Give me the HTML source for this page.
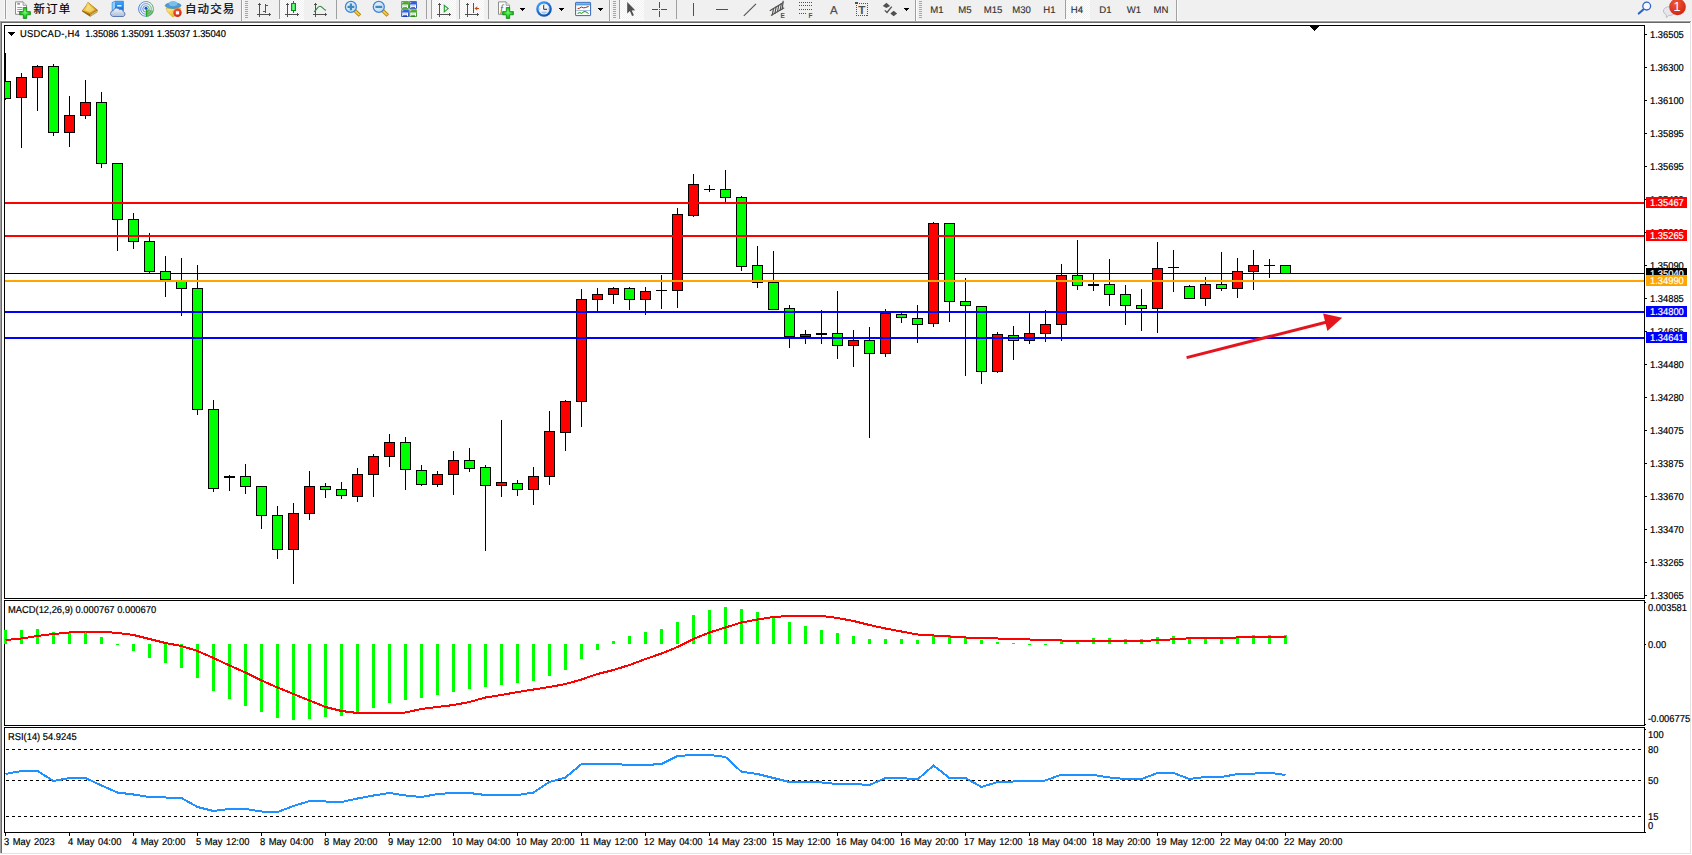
<!DOCTYPE html>
<html lang="zh-CN"><head><meta charset="utf-8"><title>USDCAD-,H4</title>
<style>
html,body{margin:0;padding:0;background:#fff;}
body{width:1692px;height:855px;position:relative;overflow:hidden;font-family:"Liberation Sans","Noto Sans CJK SC",sans-serif;color:#000;}
.abs{position:absolute;}
#tb{left:0;top:0;width:1692px;height:20px;background:#f0f0f0;}
.t{position:absolute;margin-top:1px;white-space:nowrap;font-size:10px;line-height:11px;height:11px;color:#000;transform:scaleX(0.935);transform-origin:0 0;-webkit-text-stroke:0.2px #000;text-rendering:geometricPrecision;}
.pl{position:absolute;left:1646px;width:41px;height:11px;}
.pl span{position:absolute;left:3.5px;top:1px;font-size:10px;line-height:11px;color:#fff;white-space:nowrap;transform:scaleX(0.935);transform-origin:0 0;-webkit-text-stroke:0.2px #fff;text-rendering:geometricPrecision;}
.cj{position:absolute;white-space:nowrap;font-size:11.5px;line-height:16px;color:#000;top:1px;letter-spacing:1.1px;-webkit-text-stroke:0.2px #000;}
.pd{position:absolute;white-space:nowrap;font-size:9.6px;line-height:12px;color:#333;top:5px;width:40px;text-align:center;text-rendering:geometricPrecision;-webkit-text-stroke:0.15px #333;}
</style></head><body>
<div id="tb" class="abs"></div>
<div class="abs" style="left:0;top:20px;width:1692px;height:1px;background:#fafafa"></div>
<div class="abs" style="left:0;top:21px;width:1691px;height:1px;background:#a0a0a0"></div>
<div class="abs" style="left:1px;top:22px;width:1689px;height:1px;background:#696969"></div>
<div class="abs" style="left:0;top:22px;width:1px;height:831px;background:#a0a0a0"></div>
<div class="abs" style="left:1px;top:23px;width:1px;height:830px;background:#696969"></div>
<div class="abs" style="left:1690px;top:22px;width:1px;height:832px;background:#e3e3e3"></div>
<div class="abs" style="left:0px;top:853px;width:1691px;height:1px;background:#e3e3e3"></div>
<svg class="abs" style="left:0;top:0" width="1692" height="855" viewBox="0 0 1692 855" shape-rendering="crispEdges">
<rect x="4" y="25" width="1641" height="1" fill="#000"/>
<rect x="4" y="598" width="1641" height="1" fill="#000"/>
<rect x="4" y="25" width="1" height="574" fill="#000"/>
<rect x="1644" y="25" width="1" height="574" fill="#000"/>
<rect x="4" y="600" width="1641" height="1" fill="#000"/>
<rect x="4" y="725" width="1641" height="1" fill="#000"/>
<rect x="4" y="600" width="1" height="126" fill="#000"/>
<rect x="1644" y="600" width="1" height="126" fill="#000"/>
<rect x="4" y="727" width="1641" height="1" fill="#000"/>
<rect x="4" y="832" width="1641" height="1" fill="#000"/>
<rect x="4" y="727" width="1" height="106" fill="#000"/>
<rect x="1644" y="727" width="1" height="106" fill="#000"/>
<rect x="1645" y="34" width="2" height="1" fill="#000"/>
<rect x="1645" y="67" width="2" height="1" fill="#000"/>
<rect x="1645" y="100" width="2" height="1" fill="#000"/>
<rect x="1645" y="133" width="2" height="1" fill="#000"/>
<rect x="1645" y="166" width="2" height="1" fill="#000"/>
<rect x="1645" y="199" width="2" height="1" fill="#000"/>
<rect x="1645" y="232" width="2" height="1" fill="#000"/>
<rect x="1645" y="265" width="2" height="1" fill="#000"/>
<rect x="1645" y="298" width="2" height="1" fill="#000"/>
<rect x="1645" y="331" width="2" height="1" fill="#000"/>
<rect x="1645" y="364" width="2" height="1" fill="#000"/>
<rect x="1645" y="397" width="2" height="1" fill="#000"/>
<rect x="1645" y="430" width="2" height="1" fill="#000"/>
<rect x="1645" y="463" width="2" height="1" fill="#000"/>
<rect x="1645" y="496" width="2" height="1" fill="#000"/>
<rect x="1645" y="529" width="2" height="1" fill="#000"/>
<rect x="1645" y="562" width="2" height="1" fill="#000"/>
<rect x="1645" y="595" width="2" height="1" fill="#000"/>
<rect x="5" y="833" width="1" height="3" fill="#000"/>
<rect x="69" y="833" width="1" height="3" fill="#000"/>
<rect x="133" y="833" width="1" height="3" fill="#000"/>
<rect x="197" y="833" width="1" height="3" fill="#000"/>
<rect x="261" y="833" width="1" height="3" fill="#000"/>
<rect x="325" y="833" width="1" height="3" fill="#000"/>
<rect x="389" y="833" width="1" height="3" fill="#000"/>
<rect x="453" y="833" width="1" height="3" fill="#000"/>
<rect x="517" y="833" width="1" height="3" fill="#000"/>
<rect x="581" y="833" width="1" height="3" fill="#000"/>
<rect x="645" y="833" width="1" height="3" fill="#000"/>
<rect x="709" y="833" width="1" height="3" fill="#000"/>
<rect x="773" y="833" width="1" height="3" fill="#000"/>
<rect x="837" y="833" width="1" height="3" fill="#000"/>
<rect x="901" y="833" width="1" height="3" fill="#000"/>
<rect x="965" y="833" width="1" height="3" fill="#000"/>
<rect x="1029" y="833" width="1" height="3" fill="#000"/>
<rect x="1093" y="833" width="1" height="3" fill="#000"/>
<rect x="1157" y="833" width="1" height="3" fill="#000"/>
<rect x="1221" y="833" width="1" height="3" fill="#000"/>
<rect x="1285" y="833" width="1" height="3" fill="#000"/>
<rect x="1645" y="832" width="1" height="1" fill="#000"/>
<rect x="1645" y="602" width="1" height="1" fill="#000"/>
<rect x="1645" y="644" width="1" height="1" fill="#000"/>
<rect x="1645" y="724" width="1" height="1" fill="#000"/>
<rect x="1645" y="729" width="1" height="1" fill="#000"/>
<rect x="1310" y="26" width="9" height="1" fill="#000"/>
<rect x="1311" y="27" width="7" height="1" fill="#000"/>
<rect x="1312" y="28" width="5" height="1" fill="#000"/>
<rect x="1313" y="29" width="3" height="1" fill="#000"/>
<rect x="1314" y="30" width="1" height="1" fill="#000"/>
<rect x="8" y="32" width="7" height="1" fill="#000"/>
<rect x="9" y="33" width="5" height="1" fill="#000"/>
<rect x="10" y="34" width="3" height="1" fill="#000"/>
<rect x="11" y="35" width="1" height="1" fill="#000"/>
<rect x="5" y="273" width="1639" height="1" fill="#000"/>
<clipPath id="cc"><rect x="5" y="26" width="1639" height="572"/></clipPath><g clip-path="url(#cc)">
<rect x="5" y="53" width="1" height="47" fill="#000"/>
<rect x="0" y="81" width="11" height="18" fill="#000"/>
<rect x="1" y="82" width="9" height="16" fill="#00ff00"/>
<rect x="21" y="73" width="1" height="75" fill="#000"/>
<rect x="16" y="77" width="11" height="21" fill="#000"/>
<rect x="17" y="78" width="9" height="19" fill="#ff0000"/>
<rect x="37" y="65" width="1" height="46" fill="#000"/>
<rect x="32" y="66" width="11" height="12" fill="#000"/>
<rect x="33" y="67" width="9" height="10" fill="#ff0000"/>
<rect x="53" y="64" width="1" height="72" fill="#000"/>
<rect x="48" y="66" width="11" height="67" fill="#000"/>
<rect x="49" y="67" width="9" height="65" fill="#00ff00"/>
<rect x="69" y="96" width="1" height="51" fill="#000"/>
<rect x="64" y="115" width="11" height="18" fill="#000"/>
<rect x="65" y="116" width="9" height="16" fill="#ff0000"/>
<rect x="85" y="80" width="1" height="39" fill="#000"/>
<rect x="80" y="102" width="11" height="14" fill="#000"/>
<rect x="81" y="103" width="9" height="12" fill="#ff0000"/>
<rect x="101" y="92" width="1" height="76" fill="#000"/>
<rect x="96" y="102" width="11" height="62" fill="#000"/>
<rect x="97" y="103" width="9" height="60" fill="#00ff00"/>
<rect x="117" y="163" width="1" height="88" fill="#000"/>
<rect x="112" y="163" width="11" height="57" fill="#000"/>
<rect x="113" y="164" width="9" height="55" fill="#00ff00"/>
<rect x="133" y="213" width="1" height="36" fill="#000"/>
<rect x="128" y="219" width="11" height="23" fill="#000"/>
<rect x="129" y="220" width="9" height="21" fill="#00ff00"/>
<rect x="149" y="233" width="1" height="40" fill="#000"/>
<rect x="144" y="241" width="11" height="31" fill="#000"/>
<rect x="145" y="242" width="9" height="29" fill="#00ff00"/>
<rect x="165" y="256" width="1" height="41" fill="#000"/>
<rect x="160" y="271" width="11" height="9" fill="#000"/>
<rect x="161" y="272" width="9" height="7" fill="#00ff00"/>
<rect x="181" y="258" width="1" height="58" fill="#000"/>
<rect x="176" y="280" width="11" height="9" fill="#000"/>
<rect x="177" y="281" width="9" height="7" fill="#00ff00"/>
<rect x="197" y="265" width="1" height="150" fill="#000"/>
<rect x="192" y="288" width="11" height="122" fill="#000"/>
<rect x="193" y="289" width="9" height="120" fill="#00ff00"/>
<rect x="213" y="400" width="1" height="92" fill="#000"/>
<rect x="208" y="409" width="11" height="80" fill="#000"/>
<rect x="209" y="410" width="9" height="78" fill="#00ff00"/>
<rect x="229" y="475" width="1" height="16" fill="#000"/>
<rect x="224" y="476" width="11" height="2" fill="#000"/>
<rect x="245" y="464" width="1" height="30" fill="#000"/>
<rect x="240" y="476" width="11" height="11" fill="#000"/>
<rect x="241" y="477" width="9" height="9" fill="#00ff00"/>
<rect x="261" y="486" width="1" height="43" fill="#000"/>
<rect x="256" y="486" width="11" height="30" fill="#000"/>
<rect x="257" y="487" width="9" height="28" fill="#00ff00"/>
<rect x="277" y="506" width="1" height="53" fill="#000"/>
<rect x="272" y="515" width="11" height="35" fill="#000"/>
<rect x="273" y="516" width="9" height="33" fill="#00ff00"/>
<rect x="293" y="503" width="1" height="81" fill="#000"/>
<rect x="288" y="513" width="11" height="37" fill="#000"/>
<rect x="289" y="514" width="9" height="35" fill="#ff0000"/>
<rect x="309" y="471" width="1" height="49" fill="#000"/>
<rect x="304" y="486" width="11" height="28" fill="#000"/>
<rect x="305" y="487" width="9" height="26" fill="#ff0000"/>
<rect x="325" y="483" width="1" height="15" fill="#000"/>
<rect x="320" y="486" width="11" height="4" fill="#000"/>
<rect x="321" y="487" width="9" height="2" fill="#00ff00"/>
<rect x="341" y="482" width="1" height="17" fill="#000"/>
<rect x="336" y="489" width="11" height="7" fill="#000"/>
<rect x="337" y="490" width="9" height="5" fill="#00ff00"/>
<rect x="357" y="468" width="1" height="34" fill="#000"/>
<rect x="352" y="474" width="11" height="23" fill="#000"/>
<rect x="353" y="475" width="9" height="21" fill="#ff0000"/>
<rect x="373" y="454" width="1" height="43" fill="#000"/>
<rect x="368" y="456" width="11" height="19" fill="#000"/>
<rect x="369" y="457" width="9" height="17" fill="#ff0000"/>
<rect x="389" y="434" width="1" height="33" fill="#000"/>
<rect x="384" y="442" width="11" height="15" fill="#000"/>
<rect x="385" y="443" width="9" height="13" fill="#ff0000"/>
<rect x="405" y="437" width="1" height="53" fill="#000"/>
<rect x="400" y="442" width="11" height="28" fill="#000"/>
<rect x="401" y="443" width="9" height="26" fill="#00ff00"/>
<rect x="421" y="465" width="1" height="21" fill="#000"/>
<rect x="416" y="470" width="11" height="15" fill="#000"/>
<rect x="417" y="471" width="9" height="13" fill="#00ff00"/>
<rect x="437" y="471" width="1" height="16" fill="#000"/>
<rect x="432" y="474" width="11" height="11" fill="#000"/>
<rect x="433" y="475" width="9" height="9" fill="#ff0000"/>
<rect x="453" y="451" width="1" height="44" fill="#000"/>
<rect x="448" y="460" width="11" height="15" fill="#000"/>
<rect x="449" y="461" width="9" height="13" fill="#ff0000"/>
<rect x="469" y="448" width="1" height="24" fill="#000"/>
<rect x="464" y="460" width="11" height="9" fill="#000"/>
<rect x="465" y="461" width="9" height="7" fill="#00ff00"/>
<rect x="485" y="465" width="1" height="86" fill="#000"/>
<rect x="480" y="467" width="11" height="19" fill="#000"/>
<rect x="481" y="468" width="9" height="17" fill="#00ff00"/>
<rect x="501" y="420" width="1" height="77" fill="#000"/>
<rect x="496" y="482" width="11" height="4" fill="#000"/>
<rect x="497" y="483" width="9" height="2" fill="#ff0000"/>
<rect x="517" y="480" width="1" height="16" fill="#000"/>
<rect x="512" y="483" width="11" height="7" fill="#000"/>
<rect x="513" y="484" width="9" height="5" fill="#00ff00"/>
<rect x="533" y="467" width="1" height="38" fill="#000"/>
<rect x="528" y="476" width="11" height="14" fill="#000"/>
<rect x="529" y="477" width="9" height="12" fill="#ff0000"/>
<rect x="549" y="411" width="1" height="74" fill="#000"/>
<rect x="544" y="431" width="11" height="46" fill="#000"/>
<rect x="545" y="432" width="9" height="44" fill="#ff0000"/>
<rect x="565" y="400" width="1" height="51" fill="#000"/>
<rect x="560" y="401" width="11" height="32" fill="#000"/>
<rect x="561" y="402" width="9" height="30" fill="#ff0000"/>
<rect x="581" y="289" width="1" height="138" fill="#000"/>
<rect x="576" y="299" width="11" height="103" fill="#000"/>
<rect x="577" y="300" width="9" height="101" fill="#ff0000"/>
<rect x="597" y="288" width="1" height="23" fill="#000"/>
<rect x="592" y="294" width="11" height="6" fill="#000"/>
<rect x="593" y="295" width="9" height="4" fill="#ff0000"/>
<rect x="613" y="287" width="1" height="17" fill="#000"/>
<rect x="608" y="288" width="11" height="7" fill="#000"/>
<rect x="609" y="289" width="9" height="5" fill="#ff0000"/>
<rect x="629" y="287" width="1" height="23" fill="#000"/>
<rect x="624" y="288" width="11" height="12" fill="#000"/>
<rect x="625" y="289" width="9" height="10" fill="#00ff00"/>
<rect x="645" y="287" width="1" height="28" fill="#000"/>
<rect x="640" y="291" width="11" height="9" fill="#000"/>
<rect x="641" y="292" width="9" height="7" fill="#ff0000"/>
<rect x="661" y="275" width="1" height="34" fill="#000"/>
<rect x="656" y="290" width="11" height="1" fill="#000"/>
<rect x="677" y="208" width="1" height="100" fill="#000"/>
<rect x="672" y="214" width="11" height="77" fill="#000"/>
<rect x="673" y="215" width="9" height="75" fill="#ff0000"/>
<rect x="693" y="174" width="1" height="43" fill="#000"/>
<rect x="688" y="184" width="11" height="32" fill="#000"/>
<rect x="689" y="185" width="9" height="30" fill="#ff0000"/>
<rect x="709" y="185" width="1" height="7" fill="#000"/>
<rect x="704" y="189" width="11" height="1" fill="#000"/>
<rect x="725" y="170" width="1" height="32" fill="#000"/>
<rect x="720" y="189" width="11" height="9" fill="#000"/>
<rect x="721" y="190" width="9" height="7" fill="#00ff00"/>
<rect x="741" y="196" width="1" height="75" fill="#000"/>
<rect x="736" y="197" width="11" height="70" fill="#000"/>
<rect x="737" y="198" width="9" height="68" fill="#00ff00"/>
<rect x="757" y="246" width="1" height="42" fill="#000"/>
<rect x="752" y="265" width="11" height="18" fill="#000"/>
<rect x="753" y="266" width="9" height="16" fill="#00ff00"/>
<rect x="773" y="251" width="1" height="59" fill="#000"/>
<rect x="768" y="282" width="11" height="28" fill="#000"/>
<rect x="769" y="283" width="9" height="26" fill="#00ff00"/>
<rect x="789" y="305" width="1" height="43" fill="#000"/>
<rect x="784" y="308" width="11" height="29" fill="#000"/>
<rect x="785" y="309" width="9" height="27" fill="#00ff00"/>
<rect x="805" y="330" width="1" height="14" fill="#000"/>
<rect x="800" y="334" width="11" height="3" fill="#000"/>
<rect x="801" y="335" width="9" height="1" fill="#ff0000"/>
<rect x="821" y="310" width="1" height="34" fill="#000"/>
<rect x="816" y="333" width="11" height="2" fill="#000"/>
<rect x="837" y="291" width="1" height="68" fill="#000"/>
<rect x="832" y="333" width="11" height="13" fill="#000"/>
<rect x="833" y="334" width="9" height="11" fill="#00ff00"/>
<rect x="853" y="330" width="1" height="37" fill="#000"/>
<rect x="848" y="340" width="11" height="6" fill="#000"/>
<rect x="849" y="341" width="9" height="4" fill="#ff0000"/>
<rect x="869" y="327" width="1" height="111" fill="#000"/>
<rect x="864" y="340" width="11" height="14" fill="#000"/>
<rect x="865" y="341" width="9" height="12" fill="#00ff00"/>
<rect x="885" y="309" width="1" height="48" fill="#000"/>
<rect x="880" y="313" width="11" height="41" fill="#000"/>
<rect x="881" y="314" width="9" height="39" fill="#ff0000"/>
<rect x="901" y="313" width="1" height="10" fill="#000"/>
<rect x="896" y="314" width="11" height="4" fill="#000"/>
<rect x="897" y="315" width="9" height="2" fill="#00ff00"/>
<rect x="917" y="305" width="1" height="38" fill="#000"/>
<rect x="912" y="318" width="11" height="7" fill="#000"/>
<rect x="913" y="319" width="9" height="5" fill="#00ff00"/>
<rect x="933" y="222" width="1" height="105" fill="#000"/>
<rect x="928" y="223" width="11" height="101" fill="#000"/>
<rect x="929" y="224" width="9" height="99" fill="#ff0000"/>
<rect x="949" y="223" width="1" height="99" fill="#000"/>
<rect x="944" y="223" width="11" height="79" fill="#000"/>
<rect x="945" y="224" width="9" height="77" fill="#00ff00"/>
<rect x="965" y="278" width="1" height="98" fill="#000"/>
<rect x="960" y="301" width="11" height="5" fill="#000"/>
<rect x="961" y="302" width="9" height="3" fill="#00ff00"/>
<rect x="981" y="306" width="1" height="78" fill="#000"/>
<rect x="976" y="306" width="11" height="66" fill="#000"/>
<rect x="977" y="307" width="9" height="64" fill="#00ff00"/>
<rect x="997" y="332" width="1" height="41" fill="#000"/>
<rect x="992" y="334" width="11" height="38" fill="#000"/>
<rect x="993" y="335" width="9" height="36" fill="#ff0000"/>
<rect x="1013" y="326" width="1" height="34" fill="#000"/>
<rect x="1008" y="335" width="11" height="6" fill="#000"/>
<rect x="1009" y="336" width="9" height="4" fill="#00ff00"/>
<rect x="1029" y="312" width="1" height="32" fill="#000"/>
<rect x="1024" y="333" width="11" height="8" fill="#000"/>
<rect x="1025" y="334" width="9" height="6" fill="#ff0000"/>
<rect x="1045" y="310" width="1" height="32" fill="#000"/>
<rect x="1040" y="324" width="11" height="10" fill="#000"/>
<rect x="1041" y="325" width="9" height="8" fill="#ff0000"/>
<rect x="1061" y="264" width="1" height="77" fill="#000"/>
<rect x="1056" y="275" width="11" height="50" fill="#000"/>
<rect x="1057" y="276" width="9" height="48" fill="#ff0000"/>
<rect x="1077" y="240" width="1" height="50" fill="#000"/>
<rect x="1072" y="275" width="11" height="11" fill="#000"/>
<rect x="1073" y="276" width="9" height="9" fill="#00ff00"/>
<rect x="1093" y="274" width="1" height="17" fill="#000"/>
<rect x="1088" y="284" width="11" height="2" fill="#000"/>
<rect x="1109" y="259" width="1" height="47" fill="#000"/>
<rect x="1104" y="284" width="11" height="11" fill="#000"/>
<rect x="1105" y="285" width="9" height="9" fill="#00ff00"/>
<rect x="1125" y="285" width="1" height="40" fill="#000"/>
<rect x="1120" y="294" width="11" height="12" fill="#000"/>
<rect x="1121" y="295" width="9" height="10" fill="#00ff00"/>
<rect x="1141" y="289" width="1" height="42" fill="#000"/>
<rect x="1136" y="305" width="11" height="4" fill="#000"/>
<rect x="1137" y="306" width="9" height="2" fill="#00ff00"/>
<rect x="1157" y="242" width="1" height="91" fill="#000"/>
<rect x="1152" y="268" width="11" height="41" fill="#000"/>
<rect x="1153" y="269" width="9" height="39" fill="#ff0000"/>
<rect x="1173" y="250" width="1" height="42" fill="#000"/>
<rect x="1168" y="267" width="11" height="1" fill="#000"/>
<rect x="1189" y="285" width="1" height="14" fill="#000"/>
<rect x="1184" y="286" width="11" height="13" fill="#000"/>
<rect x="1185" y="287" width="9" height="11" fill="#00ff00"/>
<rect x="1205" y="277" width="1" height="29" fill="#000"/>
<rect x="1200" y="284" width="11" height="15" fill="#000"/>
<rect x="1201" y="285" width="9" height="13" fill="#ff0000"/>
<rect x="1221" y="252" width="1" height="39" fill="#000"/>
<rect x="1216" y="284" width="11" height="5" fill="#000"/>
<rect x="1217" y="285" width="9" height="3" fill="#00ff00"/>
<rect x="1237" y="258" width="1" height="40" fill="#000"/>
<rect x="1232" y="271" width="11" height="18" fill="#000"/>
<rect x="1233" y="272" width="9" height="16" fill="#ff0000"/>
<rect x="1253" y="250" width="1" height="40" fill="#000"/>
<rect x="1248" y="265" width="11" height="7" fill="#000"/>
<rect x="1249" y="266" width="9" height="5" fill="#ff0000"/>
<rect x="1269" y="259" width="1" height="19" fill="#000"/>
<rect x="1264" y="265" width="11" height="1" fill="#000"/>
<rect x="1285" y="265" width="1" height="9" fill="#000"/>
<rect x="1280" y="265" width="11" height="9" fill="#000"/>
<rect x="1281" y="266" width="9" height="7" fill="#00ff00"/>
</g>
<rect x="5" y="202" width="1639" height="2" fill="#ff0000"/>
<rect x="5" y="235" width="1639" height="2" fill="#ff0000"/>
<rect x="5" y="280" width="1639" height="2" fill="#ffa500"/>
<rect x="5" y="311" width="1639" height="2" fill="#0000ff"/>
<rect x="5" y="337" width="1639" height="2" fill="#0000ff"/>
<rect x="4" y="630" width="3" height="14" fill="#00ff00"/>
<rect x="20" y="630" width="3" height="14" fill="#00ff00"/>
<rect x="36" y="629" width="3" height="15" fill="#00ff00"/>
<rect x="52" y="632" width="3" height="12" fill="#00ff00"/>
<rect x="68" y="633" width="3" height="11" fill="#00ff00"/>
<rect x="84" y="632" width="3" height="12" fill="#00ff00"/>
<rect x="100" y="637" width="3" height="7" fill="#00ff00"/>
<rect x="116" y="644" width="3" height="1" fill="#00ff00"/>
<rect x="132" y="644" width="3" height="7" fill="#00ff00"/>
<rect x="148" y="644" width="3" height="14" fill="#00ff00"/>
<rect x="164" y="644" width="3" height="19" fill="#00ff00"/>
<rect x="180" y="644" width="3" height="24" fill="#00ff00"/>
<rect x="196" y="644" width="3" height="34" fill="#00ff00"/>
<rect x="212" y="644" width="3" height="47" fill="#00ff00"/>
<rect x="228" y="644" width="3" height="55" fill="#00ff00"/>
<rect x="244" y="644" width="3" height="62" fill="#00ff00"/>
<rect x="260" y="644" width="3" height="68" fill="#00ff00"/>
<rect x="276" y="644" width="3" height="74" fill="#00ff00"/>
<rect x="292" y="644" width="3" height="76" fill="#00ff00"/>
<rect x="308" y="644" width="3" height="75" fill="#00ff00"/>
<rect x="324" y="644" width="3" height="73" fill="#00ff00"/>
<rect x="340" y="644" width="3" height="72" fill="#00ff00"/>
<rect x="356" y="644" width="3" height="68" fill="#00ff00"/>
<rect x="372" y="644" width="3" height="64" fill="#00ff00"/>
<rect x="388" y="644" width="3" height="59" fill="#00ff00"/>
<rect x="404" y="644" width="3" height="56" fill="#00ff00"/>
<rect x="420" y="644" width="3" height="54" fill="#00ff00"/>
<rect x="436" y="644" width="3" height="51" fill="#00ff00"/>
<rect x="452" y="644" width="3" height="48" fill="#00ff00"/>
<rect x="468" y="644" width="3" height="45" fill="#00ff00"/>
<rect x="484" y="644" width="3" height="43" fill="#00ff00"/>
<rect x="500" y="644" width="3" height="41" fill="#00ff00"/>
<rect x="516" y="644" width="3" height="39" fill="#00ff00"/>
<rect x="532" y="644" width="3" height="37" fill="#00ff00"/>
<rect x="548" y="644" width="3" height="32" fill="#00ff00"/>
<rect x="564" y="644" width="3" height="26" fill="#00ff00"/>
<rect x="580" y="644" width="3" height="15" fill="#00ff00"/>
<rect x="596" y="644" width="3" height="6" fill="#00ff00"/>
<rect x="612" y="641" width="3" height="3" fill="#00ff00"/>
<rect x="628" y="636" width="3" height="8" fill="#00ff00"/>
<rect x="644" y="632" width="3" height="12" fill="#00ff00"/>
<rect x="660" y="629" width="3" height="15" fill="#00ff00"/>
<rect x="676" y="622" width="3" height="22" fill="#00ff00"/>
<rect x="692" y="615" width="3" height="29" fill="#00ff00"/>
<rect x="708" y="610" width="3" height="34" fill="#00ff00"/>
<rect x="724" y="607" width="3" height="37" fill="#00ff00"/>
<rect x="740" y="609" width="3" height="35" fill="#00ff00"/>
<rect x="756" y="612" width="3" height="32" fill="#00ff00"/>
<rect x="772" y="618" width="3" height="26" fill="#00ff00"/>
<rect x="788" y="622" width="3" height="22" fill="#00ff00"/>
<rect x="804" y="626" width="3" height="18" fill="#00ff00"/>
<rect x="820" y="630" width="3" height="14" fill="#00ff00"/>
<rect x="836" y="633" width="3" height="11" fill="#00ff00"/>
<rect x="852" y="636" width="3" height="8" fill="#00ff00"/>
<rect x="868" y="639" width="3" height="5" fill="#00ff00"/>
<rect x="884" y="639" width="3" height="5" fill="#00ff00"/>
<rect x="900" y="639" width="3" height="5" fill="#00ff00"/>
<rect x="916" y="640" width="3" height="4" fill="#00ff00"/>
<rect x="932" y="635" width="3" height="9" fill="#00ff00"/>
<rect x="948" y="635" width="3" height="9" fill="#00ff00"/>
<rect x="964" y="637" width="3" height="7" fill="#00ff00"/>
<rect x="980" y="640" width="3" height="4" fill="#00ff00"/>
<rect x="996" y="642" width="3" height="2" fill="#00ff00"/>
<rect x="1012" y="643" width="3" height="1" fill="#00ff00"/>
<rect x="1028" y="644" width="3" height="1" fill="#00ff00"/>
<rect x="1044" y="644" width="3" height="1" fill="#00ff00"/>
<rect x="1060" y="640" width="3" height="4" fill="#00ff00"/>
<rect x="1076" y="641" width="3" height="3" fill="#00ff00"/>
<rect x="1092" y="638" width="3" height="6" fill="#00ff00"/>
<rect x="1108" y="638" width="3" height="6" fill="#00ff00"/>
<rect x="1124" y="639" width="3" height="5" fill="#00ff00"/>
<rect x="1140" y="639" width="3" height="5" fill="#00ff00"/>
<rect x="1156" y="637" width="3" height="7" fill="#00ff00"/>
<rect x="1172" y="636" width="3" height="8" fill="#00ff00"/>
<rect x="1188" y="637" width="3" height="7" fill="#00ff00"/>
<rect x="1204" y="638" width="3" height="6" fill="#00ff00"/>
<rect x="1220" y="638" width="3" height="6" fill="#00ff00"/>
<rect x="1236" y="636" width="3" height="8" fill="#00ff00"/>
<rect x="1252" y="635" width="3" height="9" fill="#00ff00"/>
<rect x="1268" y="635" width="3" height="9" fill="#00ff00"/>
<rect x="1284" y="635" width="3" height="9" fill="#00ff00"/>
<line x1="6" y1="749.5" x2="1644" y2="749.5" stroke="#000" stroke-width="1" stroke-dasharray="3 3"/>
<line x1="6" y1="780.5" x2="1644" y2="780.5" stroke="#000" stroke-width="1" stroke-dasharray="3 3"/>
<line x1="6" y1="816.5" x2="1644" y2="816.5" stroke="#000" stroke-width="1" stroke-dasharray="3 3"/>
<g shape-rendering="geometricPrecision">
<polyline points="5.5,640 21.5,638.5 37.5,636 53.5,634 69.5,632.5 85.5,631.5 101.5,631.5 117.5,633 133.5,635 149.5,639 165.5,643 181.5,646 197.5,651 213.5,658 229.5,665.5 245.5,672.5 261.5,680.5 277.5,687.5 293.5,694 309.5,700.5 325.5,707 341.5,711 357.5,713 373.5,713 389.5,713 405.5,712.5 421.5,709 437.5,707 453.5,705 469.5,702 485.5,697.5 501.5,695 517.5,692 533.5,689.5 549.5,687 565.5,684 581.5,679.5 597.5,674 613.5,670 629.5,665 645.5,659 661.5,653.5 677.5,647 693.5,639 709.5,632.5 725.5,627.5 741.5,622.5 757.5,619.5 773.5,617 789.5,616 805.5,616 821.5,616 837.5,618 853.5,621 869.5,625 885.5,628.5 901.5,631.5 917.5,634.5 933.5,635.5 949.5,636.5 965.5,637.5 981.5,637.8 997.5,638.5 1013.5,638.8 1029.5,639.5 1045.5,639.8 1061.5,640.5 1077.5,640.8 1093.5,640.8 1109.5,640.8 1125.5,640.8 1141.5,640.8 1157.5,640.3 1173.5,639.3 1189.5,638.3 1205.5,638 1221.5,638 1237.5,637.45 1253.5,637 1269.5,637 1285.5,637" fill="none" stroke="#ff0000" stroke-width="2" stroke-linejoin="miter" shape-rendering="crispEdges"/>
<polyline points="5.5,774 21.5,771 37.5,771 53.5,781 69.5,778 85.5,778 101.5,785.5 117.5,792.5 133.5,794.5 149.5,797 165.5,797.5 181.5,798 197.5,807 213.5,811 229.5,809 245.5,809 261.5,811.5 277.5,812 293.5,806 309.5,801 325.5,801.5 341.5,802 357.5,798.5 373.5,795.5 389.5,793 405.5,795.5 421.5,797 437.5,794 453.5,793 469.5,793 485.5,795 501.5,795 517.5,795 533.5,792.5 549.5,782 565.5,777.5 581.5,764 597.5,764 613.5,764 629.5,765 645.5,765 661.5,764 677.5,756 693.5,755 709.5,755 725.5,757 741.5,771.8 757.5,774 773.5,778 789.5,782 805.5,782 821.5,782.5 837.5,784 853.5,784 869.5,785 885.5,778 901.5,778 917.5,779.5 933.5,765.5 949.5,778 965.5,778 981.5,787 997.5,782 1013.5,781.5 1029.5,781 1045.5,780.5 1061.5,774.5 1077.5,774.5 1093.5,775 1109.5,777.5 1125.5,779 1141.5,779 1157.5,773 1173.5,773 1189.5,779 1205.5,777 1221.5,777 1237.5,774 1253.5,773.6 1269.5,772.8 1285.5,775" fill="none" stroke="#1e90ff" stroke-width="2" stroke-linejoin="miter" shape-rendering="crispEdges"/>
<g shape-rendering="geometricPrecision"><line x1="1186.6" y1="357.6" x2="1328" y2="321.7" stroke="#e5141d" stroke-width="3"/><polygon points="1342.2,317.8 1323.1,313.5 1327.4,330.9" fill="#e5141d"/></g>
</g></svg>
<div class="t" style="left:1649.5px;top:29px">1.36505</div>
<div class="t" style="left:1649.5px;top:62px">1.36300</div>
<div class="t" style="left:1649.5px;top:95px">1.36100</div>
<div class="t" style="left:1649.5px;top:128px">1.35895</div>
<div class="t" style="left:1649.5px;top:161px">1.35695</div>
<div class="t" style="left:1649.5px;top:194px">1.35490</div>
<div class="t" style="left:1649.5px;top:227px">1.35290</div>
<div class="t" style="left:1649.5px;top:260px">1.35090</div>
<div class="t" style="left:1649.5px;top:293px">1.34885</div>
<div class="t" style="left:1649.5px;top:326px">1.34685</div>
<div class="t" style="left:1649.5px;top:359px">1.34480</div>
<div class="t" style="left:1649.5px;top:392px">1.34280</div>
<div class="t" style="left:1649.5px;top:425px">1.34075</div>
<div class="t" style="left:1649.5px;top:458px">1.33875</div>
<div class="t" style="left:1649.5px;top:491px">1.33670</div>
<div class="t" style="left:1649.5px;top:524px">1.33470</div>
<div class="t" style="left:1649.5px;top:557px">1.33265</div>
<div class="t" style="left:1649.5px;top:590px">1.33065</div>
<div class="pl" style="top:197px;background:#ff0000"><span>1.35467</span></div>
<div class="pl" style="top:230px;background:#ff0000"><span>1.35265</span></div>
<div class="pl" style="top:268px;background:#000000"><span>1.35040</span></div>
<div class="pl" style="top:275px;background:#ffa500"><span>1.34990</span></div>
<div class="pl" style="top:306px;background:#0000ff"><span>1.34800</span></div>
<div class="pl" style="top:332px;background:#0000ff"><span>1.34641</span></div>
<div class="t" style="left:1647.5px;top:602px">0.003581</div>
<div class="t" style="left:1647.5px;top:639px">0.00</div>
<div class="t" style="left:1647.5px;top:713px">-0.006775</div>
<div class="t" style="left:1647.5px;top:729px">100</div>
<div class="t" style="left:1647.5px;top:744px">80</div>
<div class="t" style="left:1647.5px;top:775px">50</div>
<div class="t" style="left:1647.5px;top:811px">15</div>
<div class="t" style="left:1647.5px;top:820px">0</div>
<div class="t" style="left:4px;top:836px;word-spacing:1px">3 May 2023</div>
<div class="t" style="left:68px;top:836px;word-spacing:1px">4 May 04:00</div>
<div class="t" style="left:132px;top:836px;word-spacing:1px">4 May 20:00</div>
<div class="t" style="left:196px;top:836px;word-spacing:1px">5 May 12:00</div>
<div class="t" style="left:260px;top:836px;word-spacing:1px">8 May 04:00</div>
<div class="t" style="left:324px;top:836px;word-spacing:1px">8 May 20:00</div>
<div class="t" style="left:388px;top:836px;word-spacing:1px">9 May 12:00</div>
<div class="t" style="left:452px;top:836px;word-spacing:1px">10 May 04:00</div>
<div class="t" style="left:516px;top:836px;word-spacing:1px">10 May 20:00</div>
<div class="t" style="left:580px;top:836px;word-spacing:1px">11 May 12:00</div>
<div class="t" style="left:644px;top:836px;word-spacing:1px">12 May 04:00</div>
<div class="t" style="left:708px;top:836px;word-spacing:1px">14 May 23:00</div>
<div class="t" style="left:772px;top:836px;word-spacing:1px">15 May 12:00</div>
<div class="t" style="left:836px;top:836px;word-spacing:1px">16 May 04:00</div>
<div class="t" style="left:900px;top:836px;word-spacing:1px">16 May 20:00</div>
<div class="t" style="left:964px;top:836px;word-spacing:1px">17 May 12:00</div>
<div class="t" style="left:1028px;top:836px;word-spacing:1px">18 May 04:00</div>
<div class="t" style="left:1092px;top:836px;word-spacing:1px">18 May 20:00</div>
<div class="t" style="left:1156px;top:836px;word-spacing:1px">19 May 12:00</div>
<div class="t" style="left:1220px;top:836px;word-spacing:1px">22 May 04:00</div>
<div class="t" style="left:1284px;top:836px;word-spacing:1px">22 May 20:00</div>
<div class="t" style="left:20.4px;top:28px"><span style="letter-spacing:.3px">USDCAD-,H4</span>&nbsp; <span style="letter-spacing:-.08px">1.35086 1.35091 1.35037 1.35040</span></div>
<div class="t" style="left:8.4px;top:604px">MACD(12,26,9) 0.000767 0.000670</div>
<div class="t" style="left:8.2px;top:731px">RSI(14) 54.9245</div>
<svg class="abs" style="left:0;top:0" width="1692" height="21" viewBox="0 0 1692 21">
<defs><pattern id="chk" width="2" height="2" patternUnits="userSpaceOnUse"><rect width="2" height="2" fill="#ffffff"/><rect x="0" y="0" width="1" height="1" fill="#f0f0f0"/><rect x="1" y="1" width="1" height="1" fill="#f0f0f0"/></pattern><radialGradient id="gplus" cx=".5" cy=".45" r=".6"><stop offset="0" stop-color="#7cf77c"/><stop offset=".55" stop-color="#22d322"/><stop offset="1" stop-color="#0f9a0f"/></radialGradient><linearGradient id="gold" x1="0" y1="0" x2="1" y2="1"><stop offset="0" stop-color="#f9e27a"/><stop offset=".5" stop-color="#e9b72c"/><stop offset="1" stop-color="#b07a0c"/></linearGradient><linearGradient id="blu" x1="0" y1="0" x2="0" y2="1"><stop offset="0" stop-color="#46a8ff"/><stop offset="1" stop-color="#0b6fe0"/></linearGradient><linearGradient id="cloud" x1="0" y1="0" x2="0" y2="1"><stop offset="0" stop-color="#f4f7fc"/><stop offset="1" stop-color="#a9bddb"/></linearGradient><linearGradient id="sig" x1="0" y1="0" x2="1" y2="0"><stop offset="0" stop-color="#3b6fd6"/><stop offset=".5" stop-color="#5b97c8"/><stop offset="1" stop-color="#49a746"/></linearGradient><linearGradient id="yel" x1="0" y1="0" x2="1" y2="1"><stop offset="0" stop-color="#fff08a"/><stop offset="1" stop-color="#e2a412"/></linearGradient><radialGradient id="redb" cx=".4" cy=".3" r=".8"><stop offset="0" stop-color="#ee5a3c"/><stop offset="1" stop-color="#cf1d0e"/></radialGradient><linearGradient id="lens" x1="0" y1="0" x2="1" y2="1"><stop offset="0" stop-color="#eef7ff"/><stop offset="1" stop-color="#b5d6f3"/></linearGradient><linearGradient id="grn" x1="0" y1="0" x2="0" y2="1"><stop offset="0" stop-color="#58b530"/><stop offset="1" stop-color="#2c8a12"/></linearGradient><linearGradient id="bl2" x1="0" y1="0" x2="0" y2="1"><stop offset="0" stop-color="#3a6fe0"/><stop offset="1" stop-color="#1438b0"/></linearGradient><radialGradient id="clk" cx=".5" cy=".5" r=".5"><stop offset="0" stop-color="#ffffff"/><stop offset=".62" stop-color="#eaf3ff"/><stop offset=".68" stop-color="#2f80e0"/><stop offset="1" stop-color="#1558b8"/></radialGradient><linearGradient id="cnd" x1="0" y1="0" x2="1" y2="0"><stop offset="0" stop-color="#3ce060"/><stop offset=".5" stop-color="#7af598"/><stop offset="1" stop-color="#2edc50"/></linearGradient><linearGradient id="clkr" x1=".2" y1="0" x2=".8" y2="1"><stop offset="0" stop-color="#4aa4f6"/><stop offset=".5" stop-color="#1c6fd8"/><stop offset="1" stop-color="#0b47a8"/></linearGradient><radialGradient id="clkf" cx=".45" cy=".4" r=".7"><stop offset="0" stop-color="#ffffff"/><stop offset="1" stop-color="#d9e3f0"/></radialGradient><linearGradient id="ttl" x1="0" y1="0" x2="0" y2="1"><stop offset="0" stop-color="#8cc4f8"/><stop offset="1" stop-color="#3f86dc"/></linearGradient></defs>
<rect x="280" y="0" width="24" height="19" fill="url(#chk)"/><rect x="279" y="19" width="25" height="1" fill="#fbfbfb"/><rect x="279" y="0" width="1" height="19" fill="#a0a0a0"/>
<rect x="432" y="0" width="24" height="19" fill="url(#chk)"/><rect x="431" y="19" width="25" height="1" fill="#fbfbfb"/><rect x="431" y="0" width="1" height="19" fill="#a0a0a0"/>
<rect x="460" y="0" width="24" height="19" fill="url(#chk)"/><rect x="459" y="19" width="25" height="1" fill="#fbfbfb"/><rect x="459" y="0" width="1" height="19" fill="#a0a0a0"/>
<rect x="620" y="0" width="24" height="19" fill="url(#chk)"/><rect x="619" y="19" width="25" height="1" fill="#fbfbfb"/><rect x="619" y="0" width="1" height="19" fill="#a0a0a0"/>
<rect x="1066" y="0" width="24" height="19" fill="url(#chk)"/><rect x="1065" y="19" width="25" height="1" fill="#fbfbfb"/><rect x="1065" y="0" width="1" height="19" fill="#a0a0a0"/>
<rect x="5" y="0" width="1" height="19" fill="#a0a0a0"/>
<rect x="4" y="0" width="1" height="19" fill="#f8f8f8"/><rect x="6" y="0" width="1" height="19" fill="#f8f8f8"/>
<rect x="336" y="0" width="1" height="19" fill="#a0a0a0"/>
<rect x="426" y="0" width="1" height="19" fill="#a0a0a0"/>
<rect x="488" y="0" width="1" height="19" fill="#a0a0a0"/>
<rect x="676" y="0" width="1" height="19" fill="#a0a0a0"/>
<rect x="241" y="0" width="1" height="21" fill="#a0a0a0"/><rect x="242" y="0" width="1" height="20" fill="#fbfbfb"/>
<rect x="609" y="0" width="1" height="21" fill="#a0a0a0"/><rect x="610" y="0" width="1" height="20" fill="#fbfbfb"/>
<rect x="915" y="0" width="1" height="21" fill="#a0a0a0"/><rect x="916" y="0" width="1" height="20" fill="#fbfbfb"/>
<rect x="1176" y="0" width="1" height="21" fill="#a0a0a0"/><rect x="1177" y="0" width="1" height="20" fill="#fbfbfb"/>
<rect x="245" y="1" width="3" height="1" fill="#a6a6a6"/><rect x="245" y="3" width="3" height="1" fill="#a6a6a6"/><rect x="245" y="5" width="3" height="1" fill="#a6a6a6"/><rect x="245" y="7" width="3" height="1" fill="#a6a6a6"/><rect x="245" y="9" width="3" height="1" fill="#a6a6a6"/><rect x="245" y="11" width="3" height="1" fill="#a6a6a6"/><rect x="245" y="13" width="3" height="1" fill="#a6a6a6"/><rect x="245" y="15" width="3" height="1" fill="#a6a6a6"/><rect x="245" y="17" width="3" height="1" fill="#a6a6a6"/>
<rect x="613" y="1" width="3" height="1" fill="#a6a6a6"/><rect x="613" y="3" width="3" height="1" fill="#a6a6a6"/><rect x="613" y="5" width="3" height="1" fill="#a6a6a6"/><rect x="613" y="7" width="3" height="1" fill="#a6a6a6"/><rect x="613" y="9" width="3" height="1" fill="#a6a6a6"/><rect x="613" y="11" width="3" height="1" fill="#a6a6a6"/><rect x="613" y="13" width="3" height="1" fill="#a6a6a6"/><rect x="613" y="15" width="3" height="1" fill="#a6a6a6"/><rect x="613" y="17" width="3" height="1" fill="#a6a6a6"/>
<rect x="919" y="1" width="3" height="1" fill="#a6a6a6"/><rect x="919" y="3" width="3" height="1" fill="#a6a6a6"/><rect x="919" y="5" width="3" height="1" fill="#a6a6a6"/><rect x="919" y="7" width="3" height="1" fill="#a6a6a6"/><rect x="919" y="9" width="3" height="1" fill="#a6a6a6"/><rect x="919" y="11" width="3" height="1" fill="#a6a6a6"/><rect x="919" y="13" width="3" height="1" fill="#a6a6a6"/><rect x="919" y="15" width="3" height="1" fill="#a6a6a6"/><rect x="919" y="17" width="3" height="1" fill="#a6a6a6"/>
<path d="M15.5,1.9 h7.6 l3.4,3.4 v9 h-11 z" fill="#fdfdfd" stroke="#8e8e8e" stroke-width="1"/><path d="M23.1,1.9 v3.4 h3.4" fill="#e6e6e6" stroke="#8e8e8e" stroke-width=".8"/><rect x="17.3" y="3.2" width="2.6" height="1.4" fill="#7a7a7a"/><rect x="17.3" y="7" width="5" height="1" fill="#9a9a9a"/><rect x="17.3" y="9" width="5" height="1" fill="#9a9a9a"/><rect x="17.3" y="11" width="5" height="1" fill="#9a9a9a"/><path d="M23.3,7.5 h3.4 v4.1 h3.7 v3.2 h-3.7 v3.6 h-3.4 v-3.6 h-3.7 v-3.2 h3.7 z" fill="url(#gplus)" stroke="#118a11" stroke-width=".8"/>
<path d="M87.9,2 L97.8,10 L97.3,12.2 L90.2,16.7 L82.1,11.4 L82.1,10.4 L85.4,6.2 Z" fill="#9a6410"/><path d="M90.3,15.9 L97.2,11.6 M90.3,15 L97.4,10.8" stroke="#f3e2a6" stroke-width=".6" fill="none"/><path d="M87.9,2.4 L97.1,9.9 L90.2,14.3 L82.7,10.5 L85.9,6.2 C86.6,5 86.4,3.6 87.9,2.4 Z" fill="url(#gold)"/><path d="M88.2,4.4 L94.8,9.8 L90.2,12.6 L85.2,10 Z" fill="#fff3a8" opacity=".55"/>
<path d="M112.2,2.6 L115,1.2 L123.4,1.2 L123.4,10.6 L112.2,10.6 Z" fill="url(#blu)" stroke="#0f62c8" stroke-width=".6"/><path d="M112.4,2.8 L115,1.5 L115,10.4 L112.4,10.4 Z" fill="#8fd0ff"/><rect x="117.2" y="5" width="4.4" height="1.5" fill="#eaf5ff"/><path d="M112.8,16.5 a3,3 0 0 1 .5,-5.9 a3.4,3.4 0 0 1 6.2,-1 a2.8,2.8 0 0 1 3.7,2 a2.6,2.6 0 0 1 .1,4.9 z" fill="url(#cloud)" stroke="#4f6faa" stroke-width=".9"/>
<circle cx="146" cy="8.9" r="7.9" fill="#eef2fa"/><path d="M146,8.9 L146,16.8 A7.9,7.9 0 0 0 153.6,11 Z" fill="#58b04e" opacity=".75"/><circle cx="146" cy="8.9" r="7.4" fill="none" stroke="url(#sig)" stroke-width="1" opacity=".9"/><circle cx="146" cy="8.9" r="5.3" fill="none" stroke="url(#sig)" stroke-width="1" opacity=".8"/><circle cx="146" cy="8.9" r="3.2" fill="none" stroke="url(#sig)" stroke-width="1" opacity=".8"/><circle cx="146" cy="8.3" r="1.5" fill="#2450c0"/><rect x="145.9" y="9" width="1.3" height="7.7" fill="#22a32e"/>
<path d="M166.1,8.3 L180.7,8.3 L179.4,11.6 L173.8,16.7 L172.2,16.7 L167.4,11.8 Z" fill="url(#yel)" stroke="#d29a12" stroke-width=".5"/><ellipse cx="173.1" cy="5.6" rx="7.9" ry="2.8" fill="#4a9cd8" stroke="#2a78b8" stroke-width=".6"/><ellipse cx="173.1" cy="3.6" rx="4.3" ry="2.7" fill="#79bfee"/><circle cx="177.5" cy="12.8" r="4.2" fill="url(#redb)"/><rect x="175.9" y="11.2" width="3.2" height="3.2" fill="#fff"/>
<g shape-rendering="crispEdges"><rect x="259" y="3" width="1" height="14" fill="#505050"/><rect x="258" y="4" width="3" height="1" fill="#505050"/><rect x="257" y="14" width="14" height="1" fill="#505050"/><rect x="269" y="13" width="1" height="3" fill="#505050"/><rect x="265" y="4" width="1" height="9" fill="#0b8c0b"/><rect x="266" y="5" width="2" height="1" fill="#0b8c0b"/><rect x="263" y="11" width="2" height="1" fill="#0b8c0b"/></g>
<g shape-rendering="crispEdges"><rect x="287" y="3" width="1" height="14" fill="#505050"/><rect x="286" y="4" width="3" height="1" fill="#505050"/><rect x="285" y="14" width="14" height="1" fill="#505050"/><rect x="297" y="13" width="1" height="3" fill="#505050"/><rect x="293" y="1" width="1" height="12" fill="#0b8c0b"/><rect x="291" y="3" width="5" height="8" fill="#0b8c0b"/><rect x="292" y="4" width="3" height="6" fill="url(#cnd)"/></g>
<g shape-rendering="crispEdges"><rect x="315" y="3" width="1" height="14" fill="#505050"/><rect x="314" y="4" width="3" height="1" fill="#505050"/><rect x="313" y="14" width="14" height="1" fill="#505050"/><rect x="325" y="13" width="1" height="3" fill="#505050"/></g><path d="M314,11.8 C316.5,10.5 317.5,6.2 320,6.2 C322.3,6.2 323.3,9.6 326,10.4" fill="none" stroke="#2d8f3f" stroke-width="1.15"/>
<path d="M354.79999999999995,10.6 L359.9,15.5" stroke="#a87808" stroke-width="3.5" stroke-linecap="butt"/><path d="M355.0,10.8 L359.5,15.1" stroke="#f0d040" stroke-width="1.9" stroke-linecap="butt"/><circle cx="350.9" cy="6.9" r="5.5" fill="url(#lens)" stroke="#3f86d2" stroke-width="1.3"/><rect x="347.5" y="5.8" width="6.8" height="2.2" fill="#3f8cb8"/>
<rect x="349.79999999999995" y="3.5" width="2.2" height="6.8" fill="#3f8cb8"/>
<path d="M382.7,10.6 L387.8,15.5" stroke="#a87808" stroke-width="3.5" stroke-linecap="butt"/><path d="M382.90000000000003,10.8 L387.40000000000003,15.1" stroke="#f0d040" stroke-width="1.9" stroke-linecap="butt"/><circle cx="378.8" cy="6.9" r="5.5" fill="url(#lens)" stroke="#3f86d2" stroke-width="1.3"/><rect x="375.40000000000003" y="5.8" width="6.8" height="2.2" fill="#3f8cb8"/>
<rect x="401.2" y="1.1" width="7.7" height="7.7" rx=".7" fill="url(#grn)"/><path d="M402.2,4.4 h5.8 v3.7 h-1 v-.9 h-3.8 v.9 h-1 z" fill="#f6f9ff"/><rect x="403.2" y="5.4" width="3.8" height=".8" fill="#a8dc90"/><rect x="402.2" y="2.1" width="1" height="1" fill="#fff" opacity=".85"/>
<rect x="409.2" y="1.1" width="7.7" height="7.7" rx=".7" fill="url(#bl2)"/><path d="M410.2,4.4 h5.8 v3.7 h-1 v-.9 h-3.8 v.9 h-1 z" fill="#f6f9ff"/><rect x="411.2" y="5.4" width="3.8" height=".8" fill="#9db4f0"/><rect x="410.2" y="2.1" width="1" height="1" fill="#fff" opacity=".85"/>
<rect x="401.2" y="9.2" width="7.7" height="7.7" rx=".7" fill="url(#bl2)"/><path d="M402.2,12.5 h5.8 v3.7 h-1 v-.9 h-3.8 v.9 h-1 z" fill="#f6f9ff"/><rect x="403.2" y="13.5" width="3.8" height=".8" fill="#9db4f0"/><rect x="402.2" y="10.2" width="1" height="1" fill="#fff" opacity=".85"/>
<rect x="409.2" y="9.2" width="7.7" height="7.7" rx=".7" fill="url(#grn)"/><path d="M410.2,12.5 h5.8 v3.7 h-1 v-.9 h-3.8 v.9 h-1 z" fill="#f6f9ff"/><rect x="411.2" y="13.5" width="3.8" height=".8" fill="#a8dc90"/><rect x="410.2" y="10.2" width="1" height="1" fill="#fff" opacity=".85"/>
<g shape-rendering="crispEdges"><rect x="439" y="3" width="1" height="14" fill="#505050"/><rect x="438" y="4" width="3" height="1" fill="#505050"/><rect x="437" y="14" width="14" height="1" fill="#505050"/><rect x="449" y="13" width="1" height="3" fill="#505050"/></g><path d="M444.3,5.3 L448.2,8.6 L444.3,11.9 Z" fill="#e9f7ea" stroke="#1fa22f" stroke-width="1.1"/>
<g shape-rendering="crispEdges"><rect x="467" y="3" width="1" height="14" fill="#505050"/><rect x="466" y="4" width="3" height="1" fill="#505050"/><rect x="465" y="14" width="14" height="1" fill="#505050"/><rect x="477" y="13" width="1" height="3" fill="#505050"/><rect x="473" y="3" width="1" height="10" fill="#1f5fae"/></g><path d="M474.4,8.4 L477.6,6.2 L477,8 L479,8 L479,8.9 L477,8.9 L477.6,10.6 Z" fill="#d2420f"/>
<path d="M498.5,1.9 h7.6 l3.4,3.4 v9 h-11 z" fill="#fdfdfd" stroke="#8e8e8e" stroke-width="1"/><path d="M506.1,1.9 v3.4 h3.4" fill="#e6e6e6" stroke="#8e8e8e" stroke-width=".8"/><text x="500.2" y="11.5" font-family="Liberation Serif,serif" font-style="italic" font-size="10" fill="#6a5a30">f</text><path d="M506.3,7.5 h3.4 v4.1 h3.7 v3.2 h-3.7 v3.6 h-3.4 v-3.6 h-3.7 v-3.2 h3.7 z" fill="url(#gplus)" stroke="#118a11" stroke-width=".8"/>
<g shape-rendering="crispEdges" fill="#000"><rect x="520" y="8" width="5" height="1"/><rect x="521" y="9" width="3" height="1"/><rect x="522" y="10" width="1" height="1"/></g>
<circle cx="544" cy="9" r="7.8" fill="url(#clkr)"/><circle cx="544" cy="9" r="5.5" fill="url(#clkf)"/><g stroke="#8a93a3" stroke-width=".7"><path d="M544,4.1 v1 M544,12.9 v1 M539.1,9 h1 M547.9,9 h1"/></g><path d="M543.7,5.2 V9.3 H547" fill="none" stroke="#2a2a2a" stroke-width="1"/><path d="M541.6,12.2 h4.8" stroke="#6aa6ee" stroke-width=".8"/>
<g shape-rendering="crispEdges" fill="#000"><rect x="559" y="8" width="5" height="1"/><rect x="560" y="9" width="3" height="1"/><rect x="561" y="10" width="1" height="1"/></g>
<rect x="575.6" y="2.4" width="15" height="13.2" rx=".4" fill="#fdfdfd" stroke="#2f68b8" stroke-width="1"/><rect x="576.1" y="2.9" width="14" height="2.4" fill="url(#ttl)"/><rect x="576.2" y="10" width="13.8" height=".8" fill="#8fb0dc"/><path d="M577.6,8.6 L579.6,8.2 L581.4,7 L583.4,7.8 L585.4,7.6 L588.6,6.4" fill="none" stroke="#a3250a" stroke-width="1"/><path d="M577.6,13.4 L579.8,12.6 L581.6,13.4 L584,11.6 L586,11.8 L588.6,13.6" fill="none" stroke="#168c16" stroke-width="1"/>
<g shape-rendering="crispEdges" fill="#000"><rect x="598" y="8" width="5" height="1"/><rect x="599" y="9" width="3" height="1"/><rect x="600" y="10" width="1" height="1"/></g>
<path d="M627.2,2 L627.2,13.6 L629.9,11.1 L632.1,16 L633.9,15.2 L631.7,10.4 L635.2,10.2 Z" fill="#505050"/>
<g shape-rendering="crispEdges" fill="#505050"><rect x="652" y="9" width="6" height="1"/><rect x="661" y="9" width="6" height="1"/><rect x="659" y="2" width="1" height="6"/><rect x="659" y="11" width="1" height="6"/><rect x="659" y="9" width="1" height="1"/><rect x="693" y="3" width="1" height="13"/><rect x="716" y="9" width="12" height="1"/></g>
<path d="M743.8,15.8 L756,3.8" stroke="#505050" stroke-width="1.1"/>
<g stroke="#505050" stroke-width="1.15" fill="none"><path d="M769.8,10.8 L783.4,2.6"/><path d="M771,15.6 L784.2,7.8"/><path d="M772.2,15.4 L773.6,8.2 M774.8,13.8 L776.2,6.6 M777.4,12.2 L778.8,5 M780,10.6 L781.4,3.4 M782.2,9.4 L783.2,0.8"/></g><text x="780.6" y="17.8" font-family="Liberation Sans,sans-serif" font-weight="bold" font-size="6.5" fill="#505050">E</text>
<line x1="799" y1="2.5" x2="812" y2="2.5" stroke="#505050" stroke-width="1" stroke-dasharray="1 1" shape-rendering="crispEdges"/>
<line x1="799" y1="5.5" x2="812" y2="5.5" stroke="#505050" stroke-width="1" stroke-dasharray="1 1" shape-rendering="crispEdges"/>
<line x1="799" y1="9.5" x2="812" y2="9.5" stroke="#505050" stroke-width="1" stroke-dasharray="1 1" shape-rendering="crispEdges"/>
<line x1="799" y1="13.5" x2="807" y2="13.5" stroke="#505050" stroke-width="1" stroke-dasharray="1 1" shape-rendering="crispEdges"/>
<text x="808.6" y="17.8" font-family="Liberation Sans,sans-serif" font-weight="bold" font-size="6.5" fill="#505050">F</text>
<text x="833.8" y="13.6" text-anchor="middle" font-family="Liberation Sans,sans-serif" font-size="11.5" fill="#505050" stroke="#505050" stroke-width=".25">A</text>
<rect x="856.5" y="3.5" width="11" height="12" fill="none" stroke="#505050" stroke-width="1" stroke-dasharray="1 1" shape-rendering="crispEdges"/><rect x="855" y="2" width="3" height="2" fill="#505050"/><text x="861.9" y="14.1" text-anchor="middle" font-family="Liberation Sans,sans-serif" font-weight="bold" font-size="11.8" fill="#505050">T</text>
<path d="M886.4,2.8 L890.1,6 L886.4,8 L882.8,6 Z" fill="#505050"/><path d="M893.7,10.8 L897.1,13.4 L893.7,16.3 L890.3,13.4 Z" fill="#505050"/><path d="M884.8,10.4 L887,12.5 L891.8,6.6" fill="none" stroke="#505050" stroke-width="1.3"/>
<g shape-rendering="crispEdges" fill="#000"><rect x="904" y="8" width="5" height="1"/><rect x="905" y="9" width="3" height="1"/><rect x="906" y="10" width="1" height="1"/></g>
<path d="M1643.6,9.2 L1638.8,13.5" stroke="#2d64c8" stroke-width="2.2" stroke-linecap="round"/><circle cx="1646.7" cy="6.1" r="3.9" fill="#f6f8ff" stroke="#2d64c8" stroke-width="1.3"/>
<path d="M1663.4,11 a6,4.4 0 1 1 5.4,4.4 l-2.6,2.2 l.2,-2.8 a6,4.4 0 0 1 -3,-3.8 z" fill="#e6e7ee" stroke="#b4b4b8" stroke-width=".8"/><circle cx="1677.5" cy="6.9" r="8.3" fill="url(#redb)"/><text x="1677.1" y="11.3" text-anchor="middle" font-family="Liberation Sans,sans-serif" font-size="12.6" fill="#fff">1</text>
</svg>
<div class="cj" style="left:33.5px">新订单</div>
<div class="cj" style="left:185px">自动交易</div>
<div class="pd" style="left:917px">M1</div>
<div class="pd" style="left:945px">M5</div>
<div class="pd" style="left:973px">M15</div>
<div class="pd" style="left:1001.5px">M30</div>
<div class="pd" style="left:1029.5px">H1</div>
<div class="pd" style="left:1057px">H4</div>
<div class="pd" style="left:1085.5px">D1</div>
<div class="pd" style="left:1114px">W1</div>
<div class="pd" style="left:1141px">MN</div>
</body></html>
